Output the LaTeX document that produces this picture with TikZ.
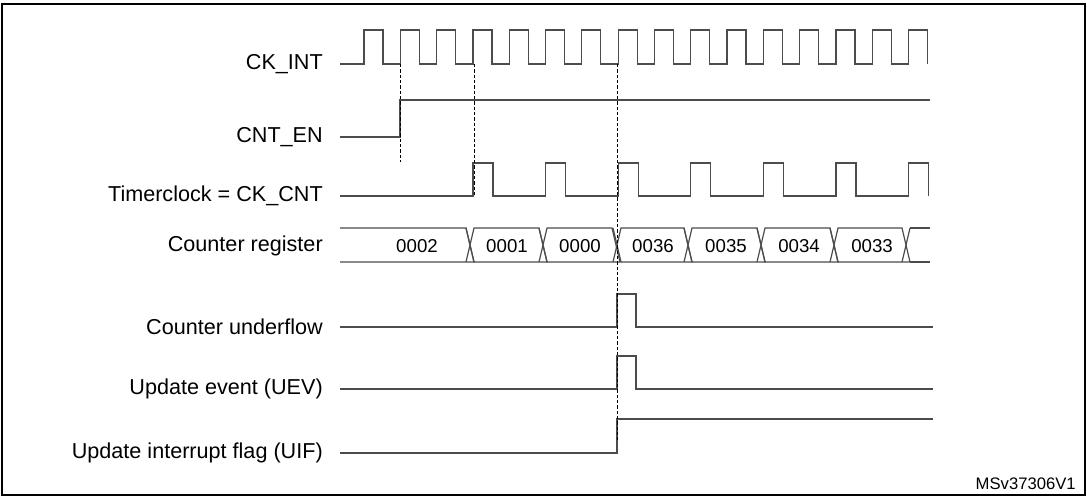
\documentclass[tikz,border=0pt]{standalone}
\usepackage{fontspec}
\setmainfont{Liberation Sans}
\begin{document}
\begin{tikzpicture}[x=0.75pt,y=-0.75pt,
  sig/.style={draw=black!70,line width=0.9pt},
  dsh/.style={draw=black,line width=0.6pt,dash pattern=on 2.5pt off 1.5pt},
  lab/.style={anchor=east,font=\fontsize{16.2}{19}\selectfont,inner sep=0pt},
  val/.style={font=\fontsize{14}{17}\selectfont,inner sep=0pt}]
\useasboundingbox (0,0) rectangle (1087,497);
\draw[line width=1.2pt] (2,4) rectangle (1085,495);
% labels
\node[lab] (l1) at (323,64) {CK\_INT};
\node[lab] (l2) at (323,137) {CNT\_EN};
\node[lab] (l3) at (323,196) {Timerclock = CK\_CNT};
\node[lab] (l4) at (323,246) {Counter register};
\node[lab] (l5) at (323,327) {Counter underflow};
\node[lab] (l6) at (323,389) {Update event (UEV)};
\node[lab] (l7) at (323,453) {Update interrupt flag (UIF)};
% CK_INT
\draw[sig] (340,64)
  \foreach \k in {0,...,15} { -- ({364+36.3*\k},64) -- ({364+36.3*\k},30) -- ({383+36.3*\k},30) -- ({383+36.3*\k},64) };
% CNT_EN
\draw[sig] (340,137) -- (400,137) -- (400,100) -- (930,100);
% Timerclock
\draw[sig] (340,196)
  \foreach \k in {3,5,...,15} { -- ({364+36.3*\k},196) -- ({364+36.3*\k},163) -- ({384+36.3*\k},163) -- ({384+36.3*\k},196) };
% Counter register
\draw[sig] (340,228) -- (466,228) -- (474,262) -- (340,262);
\foreach \a/\b in {474/539,547/612,621/684,692/757,765/830,838/902}{
  \draw[sig] (\a-8,262) -- (\a,228) -- (\b,228) -- (\b+8,262) -- (\a,262) -- (\a-8,228);
}
\draw[sig] (910,228) -- (902,262);
\draw[sig] (910,262) -- (930,262);
\draw[sig] (910,228) -- (930,228);
\node[val] (v0) at (417,246) {0002};
\node[val] (v1) at (507,246) {0001};
\node[val] (v2) at (580,246) {0000};
\node[val] (v3) at (653,246) {0036};
\node[val] (v4) at (726,246) {0035};
\node[val] (v5) at (799,246) {0034};
\node[val] (v6) at (872,246) {0033};
% underflow / UEV / UIF
\draw[sig] (340,327) -- (617,327) -- (617,294) -- (636,294) -- (636,327) -- (933,327);
\draw[sig] (340,389) -- (617,389) -- (617,356) -- (636,356) -- (636,389) -- (933,389);
\draw[sig] (340,453) -- (617,453) -- (617,419) -- (933,419);
% dashed
\draw[dsh] (400,64) -- (400,162);
\draw[dsh] (474,64) -- (474,196);
\draw[dsh] (617,64) -- (617,440);
\node[anchor=south east,font=\fontsize{12.5}{14}\selectfont,inner sep=0pt] (id) at (1076,490) {MSv37306V1};
\end{tikzpicture}
\end{document}
